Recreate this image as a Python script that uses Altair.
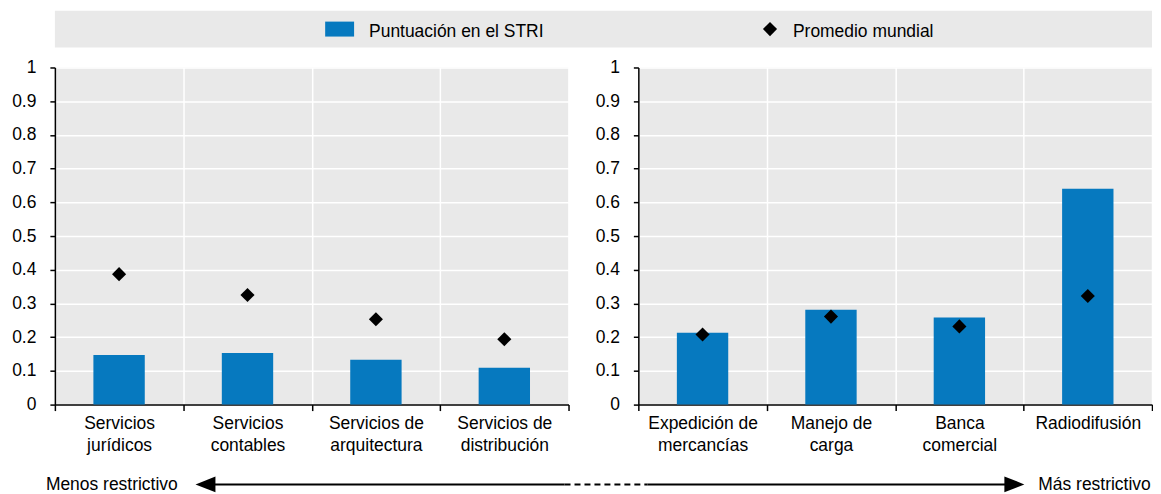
import altair as alt
import pandas as pd

# ---------------- data ----------------
left_categories = ["Servicios\njurídicos", "Servicios\ncontables",
                   "Servicios de\narquitectura", "Servicios de\ndistribución"]
left_stri = [0.147, 0.153, 0.133, 0.109]
left_world = [0.387, 0.325, 0.253, 0.194]

right_categories = ["Expedición de\nmercancías", "Manejo de\ncarga",
                    "Banca\ncomercial", "Radiodifusión"]
right_stri = [0.213, 0.281, 0.258, 0.640]
right_world = [0.208, 0.261, 0.232, 0.322]

y_ticks = [0, 0.1, 0.2, 0.3, 0.4, 0.5, 0.6, 0.7, 0.8, 0.9, 1]
legend_labels = ["Puntuación en el STRI", "Promedio mundial"]
arrow_labels = ["Menos restrictivo", "Más restrictivo"]

# ---------------- style ----------------
BLUE = "#0679BF"
GRAY = "#E9E9E9"
FONT = "Liberation Sans, Arial, sans-serif"
FS = 17.5
PW = 515   # panel width
PH = 338   # panel height


def make_yaxis():
    return alt.Axis(values=y_ticks, tickCount=len(y_ticks) + 5, format="~g",
                    grid=True, gridColor="white", gridWidth=1.5,
                    domainColor="black", domainWidth=1.5,
                    tickColor="black", tickWidth=1.5, tickSize=5,
                    labelPadding=14, labelFont=FONT, labelFontSize=FS,
                    labelColor="black", labelOverlap=False, labelFlush=False)


def panel(cats, stri, world, extra_layers=()):
    df = pd.DataFrame({"cat": cats, "stri": stri, "world": world})
    x = alt.X(
        "cat:N", sort=cats, title=None,
        scale=alt.Scale(paddingInner=0, paddingOuter=0),
        axis=alt.Axis(labelAngle=0, tickBand="extent", grid=True,
                      gridColor="white", gridWidth=1.5,
                      domainColor="black", domainWidth=1.5,
                      tickColor="black", tickWidth=1.5, tickSize=6,
                      labelPadding=4, labelLineHeight=22,
                      labelExpr="split(datum.label, '\\n')",
                      labelFont=FONT, labelFontSize=FS, labelColor="black"),
    )
    yscale = alt.Scale(domain=[0, 1], nice=False)
    bars = alt.Chart(df).mark_bar(color=BLUE, width={"band": 0.4}).encode(
        x=x,
        y=alt.Y("stri:Q", title=None, scale=yscale, axis=make_yaxis()),
    )
    pts = alt.Chart(df).mark_point(shape="diamond", filled=True, color="black",
                                   size=200, opacity=1).encode(
        x=x, y=alt.Y("world:Q", title=None, scale=yscale, axis=make_yaxis()),
    )
    return alt.layer(bars, pts, *extra_layers).properties(
        width=PW, height=PH,
        view=alt.ViewBackground(fill=GRAY, strokeWidth=0),
    )


# ---------- legend strip (drawn above the left panel, spanning both) ----------
leg1 = pd.DataFrame({"label": [legend_labels[0]]})
leg2 = pd.DataFrame({"label": [legend_labels[1]]})
band = alt.Chart(leg1).mark_rect(color=GRAY).encode(
    x=alt.value(0), x2=alt.value(1100), y=alt.value(-57), y2=alt.value(-20))
leg_sq = alt.Chart(leg1).mark_rect(color=BLUE).encode(
    x=alt.value(271), x2=alt.value(300), y=alt.value(-46), y2=alt.value(-31))
leg_t1 = alt.Chart(leg1).mark_text(align="left", baseline="alphabetic",
                                   font=FONT, fontSize=FS, color="black").encode(
    text="label:N", x=alt.value(315), y=alt.value(-31))
leg_dm = alt.Chart(leg2).mark_point(shape="diamond", filled=True, color="black",
                                    size=200, opacity=1).encode(
    x=alt.value(717), y=alt.value(-38.5))
leg_t2 = alt.Chart(leg2).mark_text(align="left", baseline="alphabetic",
                                   font=FONT, fontSize=FS, color="black").encode(
    text="label:N", x=alt.value(740), y=alt.value(-31))

# ---------- arrow strip (below both panels) ----------
arr_l = pd.DataFrame({"label": [arrow_labels[0]]})
arr_r = pd.DataFrame({"label": [arrow_labels[1]]})
AY = 418
line1 = alt.Chart(arr_l).mark_rule(color="black", strokeWidth=2).encode(
    x=alt.value(151), x2=alt.value(511), y=alt.value(AY))
line2 = alt.Chart(arr_l).mark_rule(color="black", strokeWidth=2,
                                   strokeDash=[6, 4]).encode(
    x=alt.value(511), x2=alt.value(594), y=alt.value(AY))
line3 = alt.Chart(arr_r).mark_rule(color="black", strokeWidth=2).encode(
    x=alt.value(594), x2=alt.value(962), y=alt.value(AY))
head_l = alt.Chart(arr_l).mark_point(shape="M-1,0L1,-0.8L1,0.8Z", filled=True,
                                     color="black", size=400, opacity=1).encode(
    x=alt.value(151), y=alt.value(AY))
head_r = alt.Chart(arr_r).mark_point(shape="M1,0L-1,-0.8L-1,0.8Z", filled=True,
                                     color="black", size=400, opacity=1).encode(
    x=alt.value(962), y=alt.value(AY))
txt_l = alt.Chart(arr_l).mark_text(align="left", baseline="alphabetic",
                                   font=FONT, fontSize=FS, color="black").encode(
    text="label:N", x=alt.value(-9), y=alt.value(AY + 6))
txt_r = alt.Chart(arr_r).mark_text(align="left", baseline="alphabetic",
                                   font=FONT, fontSize=FS, color="black").encode(
    text="label:N", x=alt.value(986), y=alt.value(AY + 6))

extras = (band, leg_sq, leg_t1, leg_dm, leg_t2,
          line1, line2, line3, head_l, head_r, txt_l, txt_r)

left = panel(left_categories, left_stri, left_world, extras)
right = panel(right_categories, right_stri, right_world)

chart = alt.hconcat(left, right, spacing=70, bounds="flush").resolve_scale(
    x="independent", y="independent"
).properties(
    padding={"left": 3, "top": 2, "right": 0, "bottom": 0},
    background="white",
).configure_view(strokeWidth=0)

chart.save("out.html", embed_options={"renderer": "svg", "actions": False})
